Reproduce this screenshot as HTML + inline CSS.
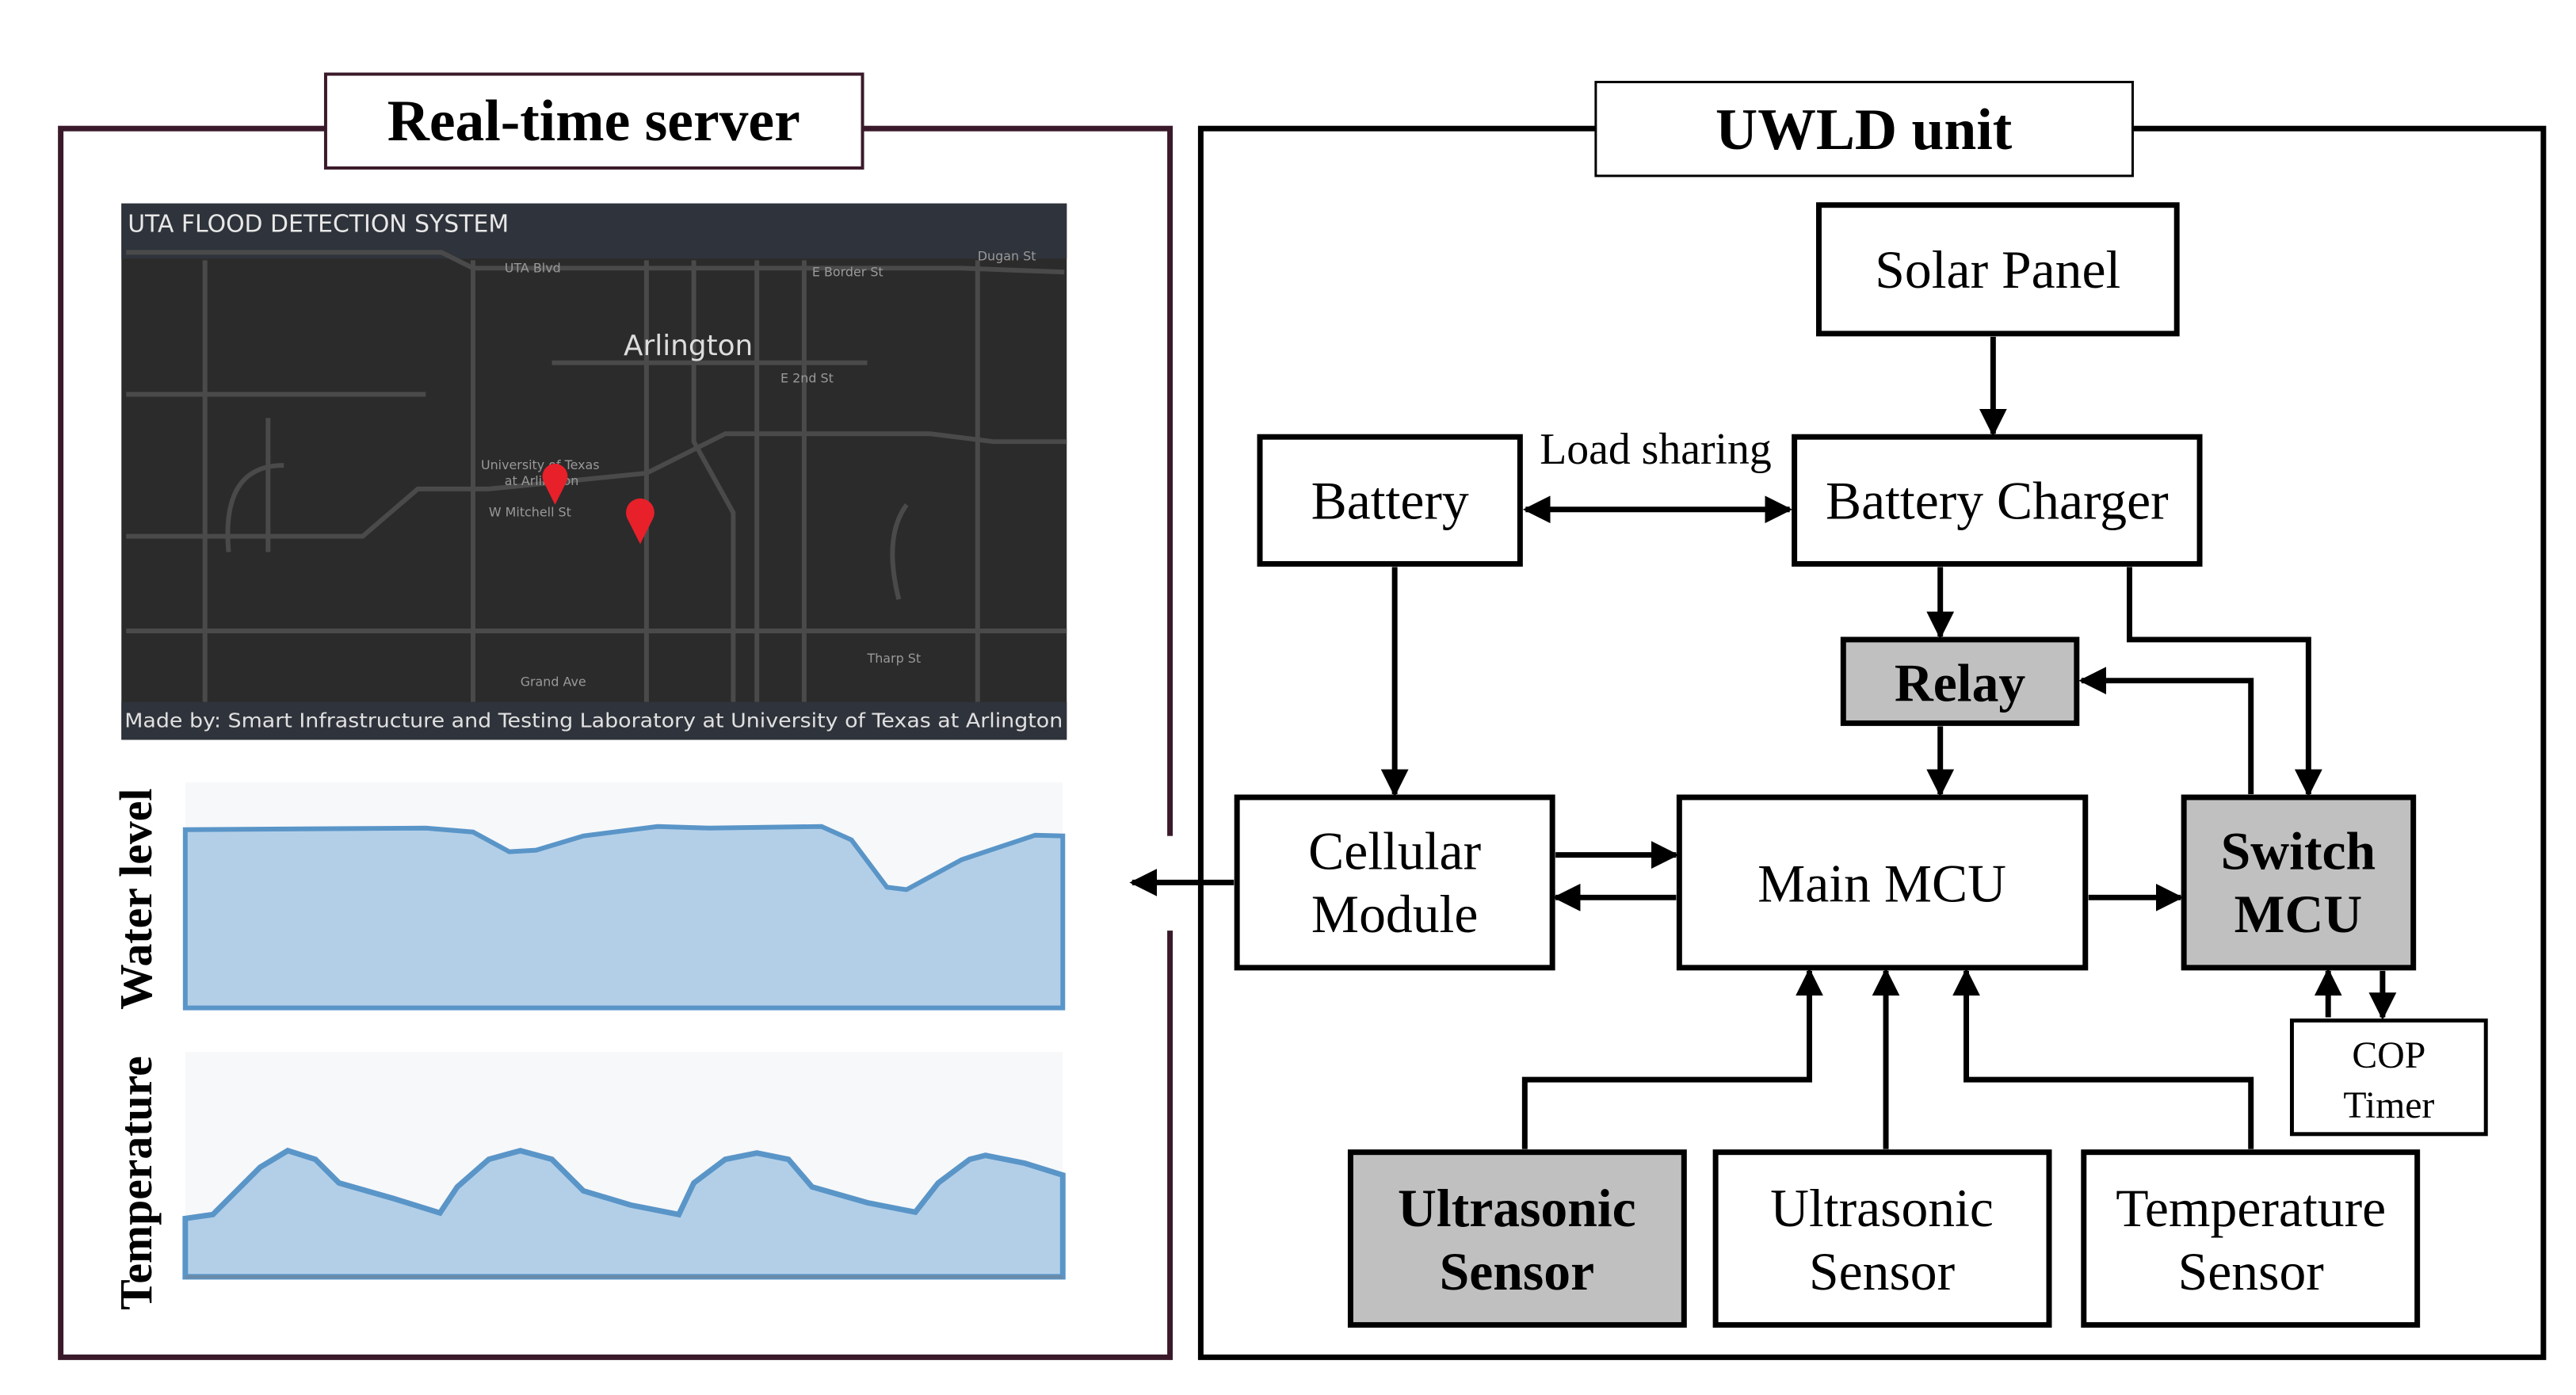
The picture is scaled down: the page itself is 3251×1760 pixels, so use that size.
<!DOCTYPE html>
<html><head><meta charset="utf-8"><style>
html,body{margin:0;padding:0;background:#fff;}
svg{display:block;}
</style></head><body>
<svg width="3251" height="1760" viewBox="0 0 3251 1760" xmlns="http://www.w3.org/2000/svg">
<defs>
<marker id="ah" viewBox="0 0 10 10" refX="9" refY="5" markerWidth="5" markerHeight="5" markerUnits="strokeWidth" orient="auto-start-reverse">
<path d="M0,0 L10,5 L0,10 z" fill="#000"/></marker>
</defs>
<rect width="3251" height="1760" fill="#fff"/>
<g transform="scale(0.995)">
<!-- Left frame -->
<rect x="77" y="163" width="1407" height="1558" fill="none" stroke="#3a1a2a" stroke-width="7"/>
<rect x="1470" y="1060" width="30" height="120" fill="#fff"/>
<rect x="413" y="94" width="681" height="119" fill="#fff" stroke="#3a1a2a" stroke-width="4"/>
<text x="753" y="178" text-anchor="middle" font-family="Liberation Serif, serif" font-weight="bold" font-size="74">Real-time server</text>

<!-- Map -->
<rect x="154" y="258" width="1199" height="680" fill="#2b2b2b"/>
<rect x="154" y="258" width="1199" height="70" fill="#2f333b"/>
<rect x="154" y="890" width="1199" height="48" fill="#2f333b"/>
<g stroke="#4a4a4a" stroke-width="6" fill="none">
<path d="M160 320 H560 L600 340 H1220 L1350 345"/>
<path d="M260 330 V890"/><path d="M600 330 V890"/><path d="M820 330 V890"/>
<path d="M880 330 V560 L930 650 V890"/><path d="M1240 330 V890"/>
<path d="M160 680 H460 L530 620 H620 L820 600 L920 550 H1180 L1260 560 H1353"/>
<path d="M160 500 H540"/><path d="M340 530 V700"/><path d="M700 460 H1100"/>
<path d="M960 330 V890"/><path d="M1020 330 V890"/><path d="M160 800 H1353"/>
<path d="M360 590 Q280 590 290 700"/><path d="M1150 640 Q1120 680 1140 760"/>
</g>
<text x="162" y="294" font-family="DejaVu Sans, sans-serif" font-size="30" fill="#e8e8e8">UTA FLOOD DETECTION SYSTEM</text>
<text x="873" y="450" text-anchor="middle" font-family="DejaVu Sans, sans-serif" font-size="36" fill="#ddd">Arlington</text>
<g font-family="DejaVu Sans, sans-serif" font-size="16" fill="#999">
<text x="640" y="345">UTA Blvd</text><text x="1030" y="350">E Border St</text><text x="1240" y="330">Dugan St</text>
<text x="990" y="485">E 2nd St</text><text x="610" y="595">University of Texas</text><text x="640" y="615">at Arlington</text>
<text x="620" y="655">W Mitchell St</text><text x="1100" y="840">Tharp St</text><text x="660" y="870">Grand Ave</text>
</g>
<circle cx="704" cy="604" r="16" fill="#e8202a"/><path d="M690 612 L704 640 L718 612z" fill="#e8202a"/>
<circle cx="812" cy="650" r="18" fill="#e8202a"/><path d="M796 658 L812 690 L828 658z" fill="#e8202a"/>
<text x="158" y="922" font-family="DejaVu Sans, sans-serif" font-size="25" fill="#e0e0e0" textLength="1190" lengthAdjust="spacingAndGlyphs">Made by: Smart Infrastructure and Testing Laboratory at University of Texas at Arlington</text>

<!-- Water chart -->
<rect x="235" y="992" width="1113" height="286" fill="#f7f8fa"/>
<path d="M235 1052 L540 1050 L600 1055 L646 1080 L680 1078 L740 1060 L834 1048 L900 1050 L1042 1048 L1080 1065 L1125 1125 L1150 1128 L1220 1090 L1313 1059 L1348 1060 L1348 1278 L235 1278 Z" fill="#b3cfe8" stroke="#5a95c8" stroke-width="6"/>
<!-- Temperature chart -->
<rect x="235" y="1334" width="1113" height="287" fill="#f7f8fa"/>
<path d="M235 1545 L270 1540 L300 1510 L330 1480 L365 1459 L400 1470 L430 1500 L500 1520 L558 1538 L580 1505 L620 1470 L660 1459 L700 1470 L740 1510 L800 1528 L861 1540 L880 1500 L920 1470 L960 1462 L1000 1470 L1030 1505 L1100 1525 L1161 1537 L1190 1500 L1230 1470 L1250 1465 L1300 1475 L1348 1490 L1348 1619 L235 1619 Z" fill="#b3cfe8" stroke="#5a95c8" stroke-width="7"/>
<line x1="235" y1="1619" x2="1348" y2="1619" stroke="#6a8aa8" stroke-width="4"/>
<text transform="translate(192,1140) rotate(-90)" text-anchor="middle" font-family="Liberation Serif, serif" font-weight="bold" font-size="58">Water  level</text>
<text transform="translate(192,1500) rotate(-90)" text-anchor="middle" font-family="Liberation Serif, serif" font-weight="bold" font-size="58">Temperature</text>

<!-- Right frame -->
<rect x="1523" y="163" width="1703" height="1558" fill="none" stroke="#000" stroke-width="7"/>
<rect x="2024" y="104" width="681" height="119" fill="#fff" stroke="#000" stroke-width="3"/>
<text x="2364" y="189" text-anchor="middle" font-family="Liberation Serif, serif" font-weight="bold" font-size="74">UWLD unit</text>

<g stroke="#000" stroke-width="7">
<rect x="2307" y="260" width="454" height="163" fill="#fff"/>
<rect x="1598" y="554" width="330" height="161" fill="#fff"/>
<rect x="2276" y="554" width="514" height="161" fill="#fff"/>
<rect x="2338" y="811" width="296" height="106" fill="#c0c0c0"/>
<rect x="1569" y="1011" width="400" height="216" fill="#fff"/>
<rect x="2130" y="1011" width="515" height="216" fill="#fff"/>
<rect x="2770" y="1011" width="291" height="216" fill="#c0c0c0"/>
<rect x="2907" y="1294" width="246" height="144" fill="#fff" stroke-width="5"/>
<rect x="1713" y="1461" width="423" height="219" fill="#c0c0c0"/>
<rect x="2176" y="1461" width="423" height="219" fill="#fff"/>
<rect x="2643" y="1461" width="423" height="219" fill="#fff"/>
</g>

<g font-family="Liberation Serif, serif" font-size="68" text-anchor="middle" fill="#000">
<text x="2534" y="365">Solar Panel</text>
<text x="1763" y="658">Battery</text>
<text x="2533" y="658">Battery Charger</text>
<text x="2100" y="588" font-size="56">Load sharing</text>
<text x="2486" y="889" font-weight="bold">Relay</text>
<text x="1769" y="1102">Cellular</text><text x="1769" y="1182">Module</text>
<text x="2387" y="1143">Main MCU</text>
<text x="2915" y="1102" font-weight="bold">Switch</text><text x="2915" y="1182" font-weight="bold">MCU</text>
<text x="3030" y="1354" font-size="48">COP</text><text x="3030" y="1417" font-size="48">Timer</text>
<text x="1924" y="1555" font-weight="bold">Ultrasonic</text><text x="1924" y="1635" font-weight="bold">Sensor</text>
<text x="2387" y="1555">Ultrasonic</text><text x="2387" y="1635">Sensor</text>
<text x="2855" y="1555">Temperature</text><text x="2855" y="1635">Sensor</text>
</g>

<g stroke="#000" stroke-width="7" fill="none" marker-end="url(#ah)">
<path d="M2528 427 V550"/>
<path d="M1935 646 H2270" marker-start="url(#ah)"/>
<path d="M1769 719 V1007"/>
<path d="M2461 719 V807"/>
<path d="M2461 921 V1007"/>
<path d="M2701 719 V811 H2928 V1007"/>
<path d="M2855 1007 V863 H2640"/>
<path d="M1973 1084 H2126"/>
<path d="M2126 1138 H1973"/>
<path d="M2649 1138 H2766"/>
<path d="M1565 1119 H1436"/>
<path d="M2953 1290 V1231"/>
<path d="M3022 1231 V1290"/>
<path d="M1934 1457 V1369 H2295 V1231"/>
<path d="M2392 1457 V1231"/>
<path d="M2855 1457 V1369 H2494 V1231"/>
</g>
</g>
</svg>
</body></html>
